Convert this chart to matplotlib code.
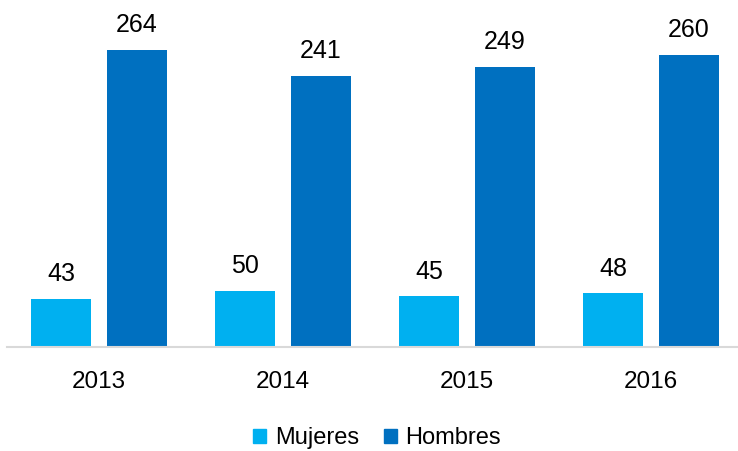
import numpy as np
import matplotlib.pyplot as plt
from matplotlib.patches import Patch

plt.rcParams['font.family'] = ['Liberation Sans Narrow', 'Liberation Sans', 'DejaVu Sans']

years = ['2013', '2014', '2015', '2016']
mujeres = [43, 50, 45, 48]
hombres = [264, 241, 249, 260]

c_muj = '#00B0F0'
c_hom = '#0070C0'

W, H = 738, 451
fig = plt.figure(figsize=(W / 100, H / 100), dpi=100)
ax = fig.add_axes([7 / W, 104 / H, 1 - 7 / W, 337.5 / H])

x = np.arange(len(years))
off = 38 / 184
bw = 60 / 184
b1 = ax.bar(x - off, mujeres, bw, color=c_muj)
b2 = ax.bar(x + off, hombres, bw, color=c_hom)

for bars, vals in ((b1, mujeres), (b2, hombres)):
    for b, v in zip(bars, vals):
        ax.annotate(str(v), (b.get_x() + b.get_width() / 2, v),
                    xytext=(0, 9), textcoords='offset points',
                    ha='center', va='bottom', fontsize=18)

ax.set_xlim(-0.5, (W - 99) / 184)
ax.set_ylim(0, 300)
ax.set_xticks(x)
ax.set_xticklabels(years, fontsize=17.5)
ax.tick_params(axis='x', length=0, pad=17)
ax.set_yticks([])
for s in ['top', 'right', 'left']:
    ax.spines[s].set_visible(False)
ax.spines['bottom'].set_color('#D9D9D9')
ax.spines['bottom'].set_linewidth(1.5)

handles = [Patch(color=c_muj, label='Mujeres'), Patch(color=c_hom, label='Hombres')]
fig.legend(handles=handles, loc='center', bbox_to_anchor=(377 / W, 1 - 438 / H),
           ncol=2, frameon=False, fontsize=17, handlelength=0.55, handleheight=0.55,
           handletextpad=0.35, columnspacing=1.05)

fig.savefig('out.png', dpi=100)
